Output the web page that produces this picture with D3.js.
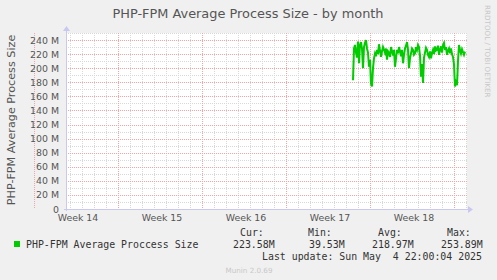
<!DOCTYPE html>
<html>
<head>
<meta charset="utf-8">
<script src="https://cdn.jsdelivr.net/npm/d3@7"></script>
<style>
  body { margin: 0; background: #f0f0f0; }
  svg { display: block; }
</style>
</head>
<body>
<div id="chart"></div>
<script>
// size of the picture
var chart_width = 497;
var chart_height = 280;

// plot box
var plot_left = 66, plot_right = 467, plot_top = 33, plot_bottom = 209;

// series: average process size in M, one value every 2 hours
var seriesStart = Date.UTC(2025, 3, 26, 14);
var stepHours = 2;
var sizeValues = [183, 228, 233, 222, 215, 238, 207, 233, 237, 228,
                  200, 230, 236, 240, 228, 222, 202, 212, 178, 174,
                  200, 214, 221, 217, 226, 220, 234, 225, 216, 224,
                  230, 226, 222, 228, 212, 224, 222, 216, 230, 224,
                  218, 226, 202, 214, 226, 221, 230, 224, 217, 226,
                  207, 219, 228, 232, 237, 226, 200, 214, 221, 228,
                  226, 219, 221, 230, 226, 233, 230, 218, 188, 206,
                  179, 215, 222, 229, 226, 219, 216, 224, 214, 222,
                  226, 220, 231, 225, 226, 232, 219, 226, 231, 222,
                  233, 236, 226, 230, 219, 225, 228, 221, 228, 220,
                  216, 205, 174, 180, 176, 210, 233, 226, 221, 227,
                  223, 219, 223.6];

// x axis: week starts (mondays) and labels
var weekStarts = ["2025-03-31", "2025-04-07", "2025-04-14", "2025-04-21", "2025-04-28", "2025-05-05"];
var weekLabels = ["Week 14", "Week 15", "Week 16", "Week 17", "Week 18"];

// y axis ticks in M
var yTicks = [0, 20, 40, 60, 80, 100, 120, 140, 160, 180, 200, 220, 240];

// legend
var legendHeads = ["Cur:", "Min:", "Avg:", "Max:"];
var legendValues = ["223.58M", "39.53M", "218.97M", "253.89M"];

var svg = d3.select('#chart')
            .append('svg')
            .attr('width', chart_width)
            .attr('height', chart_height);

svg.append('rect')
   .attr('width', chart_width)
   .attr('height', chart_height)
   .attr('fill', '#f0f0f0');

var x = d3.scaleUtc()
          .domain([new Date(Date.UTC(2025, 3, 2, 16)), new Date(Date.UTC(2025, 4, 6, 2))])
          .range([plot_left, plot_right]);

var y = d3.scaleLinear()
          .domain([0, 250])
          .range([plot_bottom, plot_top]);

// plot background
svg.append('rect')
   .attr('x', plot_left).attr('y', plot_top)
   .attr('width', plot_right - plot_left).attr('height', plot_bottom - plot_top)
   .attr('fill', '#fff');

// minor horizontal grid every 10M
svg.selectAll('line.hmin')
   .data(d3.range(10, 260, 20))
   .enter()
   .append('line')
   .attr('x1', plot_left).attr('x2', plot_right)
   .attr('y1', function(d){ return Math.round(y(d)) + 0.5; })
   .attr('y2', function(d){ return Math.round(y(d)) + 0.5; })
   .attr('stroke', '#d8d8d8')
   .attr('stroke-dasharray', '1,1');

// minor vertical grid, every day
var days = d3.utcDay.range(x.domain()[0], x.domain()[1]);
svg.selectAll('line.vmin')
   .data(days)
   .enter()
   .append('line')
   .attr('x1', function(d){ return Math.round(x(d)) + 0.5; })
   .attr('x2', function(d){ return Math.round(x(d)) + 0.5; })
   .attr('y1', plot_top).attr('y2', plot_bottom)
   .attr('stroke', '#d8d8d8')
   .attr('stroke-dasharray', '1,1');

// major horizontal grid
svg.selectAll('line.hmaj')
   .data(yTicks.slice(1))
   .enter()
   .append('line')
   .attr('x1', plot_left).attr('x2', plot_right)
   .attr('y1', function(d){ return Math.round(y(d)) + 0.5; })
   .attr('y2', function(d){ return Math.round(y(d)) + 0.5; })
   .attr('stroke', '#f4a4a4')
   .attr('stroke-dasharray', '1,1');

// major vertical grid, week starts
svg.selectAll('line.vmaj')
   .data(weekStarts.map(function(s){ return new Date(s + 'T00:00:00Z'); }))
   .enter()
   .append('line')
   .attr('x1', function(d){ return Math.round(x(d)) + 0.5; })
   .attr('x2', function(d){ return Math.round(x(d)) + 0.5; })
   .attr('y1', plot_top).attr('y2', plot_bottom)
   .attr('stroke', '#f4a4a4')
   .attr('stroke-dasharray', '1,1');

// y tick labels
svg.selectAll('text.ytick')
   .data(yTicks)
   .enter()
   .append('text')
   .attr('x', 59)
   .attr('y', function(d){ return y(d) + 3.5; })
   .attr('text-anchor', 'end')
   .style('font-family', 'DejaVu Sans')
   .style('font-size', '9.4px')
   .attr('fill', '#555')
   .text(function(d){ return d === 0 ? '0' : d + ' M'; });

// week labels, centred in each week
svg.selectAll('text.xtick')
   .data(weekLabels)
   .enter()
   .append('text')
   .attr('x', function(d, i){
       var s = new Date(weekStarts[i] + 'T00:00:00Z');
       return x(d3.utcHour.offset(s, 88));
   })
   .attr('y', 221)
   .attr('text-anchor', 'middle')
   .style('font-family', 'DejaVu Sans')
   .style('font-size', '9.4px')
   .attr('fill', '#555')
   .text(function(d){ return d; });

// axes with arrows
svg.append('line')
   .attr('x1', plot_left - 2).attr('x2', plot_right + 2)
   .attr('y1', plot_bottom + 0.5).attr('y2', plot_bottom + 0.5)
   .attr('stroke', '#c8c8f0');
svg.append('path')
   .attr('d', 'M' + (plot_right + 1) + ',' + (plot_bottom - 3) + 'L' + (plot_right + 6) + ',' + (plot_bottom + 0.5) + 'L' + (plot_right + 1) + ',' + (plot_bottom + 4) + 'Z')
   .attr('fill', '#c8c8f0');
svg.append('line')
   .attr('x1', plot_left + 0.5).attr('x2', plot_left + 0.5)
   .attr('y1', plot_bottom + 2).attr('y2', plot_top - 3)
   .attr('stroke', '#c8c8f0');
svg.append('path')
   .attr('d', 'M' + (plot_left - 3) + ',' + (plot_top - 2) + 'L' + (plot_left + 0.5) + ',' + (plot_top - 7) + 'L' + (plot_left + 4) + ',' + (plot_top - 2) + 'Z')
   .attr('fill', '#c8c8f0');

// the series line
var line = d3.line()
             .x(function(d, i){ return x(new Date(seriesStart + i * stepHours * 3600e3)); })
             .y(function(d){ return y(d); });

svg.append('path')
   .datum(sizeValues)
   .attr('d', line)
   .attr('fill', 'none')
   .attr('stroke', '#00cc00')
   .attr('stroke-width', 2)
   .attr('stroke-linejoin', 'miter');

// title
svg.append('text')
   .attr('x', 248).attr('y', 18)
   .attr('text-anchor', 'middle')
   .style('font-family', 'DejaVu Sans')
   .style('font-size', '12.9px')
   .attr('fill', '#555')
   .text('PHP-FPM Average Process Size - by month');

// y axis title
svg.append('text')
   .attr('transform', 'translate(15,120) rotate(-90)')
   .attr('text-anchor', 'middle')
   .style('font-family', 'DejaVu Sans')
   .style('font-size', '11.2px')
   .attr('fill', '#555')
   .text('PHP-FPM Average Process Size');

// watermark on the right
svg.append('text')
   .attr('transform', 'translate(485,5) rotate(90)')
   .style('font-family', 'DejaVu Sans')
   .style('font-size', '7.2px')
   .attr('fill', '#c8c8c8')
   .text('RRDTOOL / TOBI OETIKER');

// legend
var mono = 'DejaVu Sans Mono';
svg.append('rect')
   .attr('x', 14).attr('y', 241)
   .attr('width', 6).attr('height', 6)
   .attr('fill', '#00cc00');
svg.append('text')
   .attr('x', 26).attr('y', 248)
   .style('font-family', mono).style('font-size', '9.9px')
   .attr('fill', '#333')
   .text('PHP-FPM Average Proccess Size');

var headX = [240, 308, 378, 447];
var valX = [233, 309, 372, 441];
svg.selectAll('text.lhead')
   .data(legendHeads)
   .enter()
   .append('text')
   .attr('x', function(d, i){ return headX[i]; })
   .attr('y', 236)
   .style('font-family', mono).style('font-size', '9.9px')
   .attr('fill', '#333')
   .text(function(d){ return d; });
svg.selectAll('text.lval')
   .data(legendValues)
   .enter()
   .append('text')
   .attr('x', function(d, i){ return valX[i]; })
   .attr('y', 248)
   .style('font-family', mono).style('font-size', '9.9px')
   .attr('fill', '#333')
   .text(function(d){ return d; });

svg.append('text')
   .attr('x', 262).attr('y', 260)
   .style('font-family', mono).style('font-size', '9.9px')
   .attr('fill', '#333')
   .style('white-space', 'pre')
   .text('Last update: Sun May  4 22:00:04 2025');

svg.append('text')
   .attr('x', 249).attr('y', 273)
   .attr('text-anchor', 'middle')
   .style('font-family', 'DejaVu Sans')
   .style('font-size', '7.2px')
   .attr('fill', '#c8c8c8')
   .text('Munin 2.0.69');
</script>
</body>
</html>
